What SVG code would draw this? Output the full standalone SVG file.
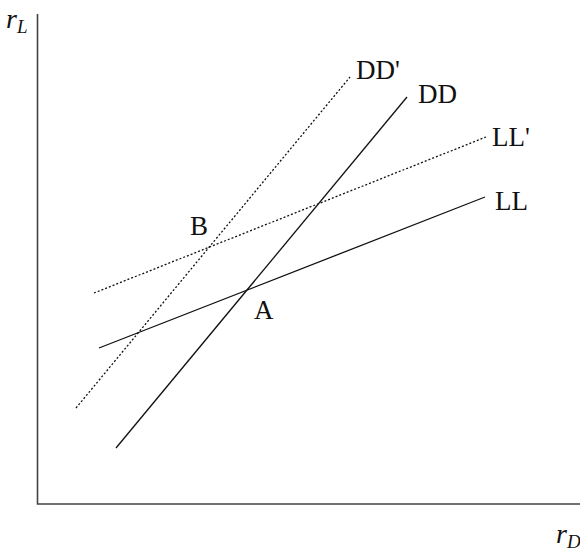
<svg xmlns="http://www.w3.org/2000/svg" width="580" height="551" viewBox="0 0 580 551">
<style>
.ax{stroke:#444;stroke-width:1.6;fill:none}
.ln{stroke:#111;stroke-width:1.3;fill:none}
.dt{stroke:#111;stroke-width:1.3;fill:none;stroke-dasharray:2 2}
.lb{font-family:"Liberation Serif",serif;font-size:27px;fill:#111}
.it{font-family:"Liberation Serif",serif;font-style:italic;font-size:28px;fill:#111}
.sb{font-family:"Liberation Serif",serif;font-style:italic;font-size:19px;fill:#111}
</style>
<rect width="580" height="551" fill="#fff"/>
<g id="axes">
<polyline class="ax" points="37.5,14 37.5,504 580,504"/>
<text class="it" x="6" y="28">r<tspan class="sb" dy="5">L</tspan></text>
<text class="it" x="556" y="543">r<tspan class="sb" dy="5">D</tspan></text>
</g>
<g id="connectors">
<line id="DD" class="ln" x1="116" y1="448" x2="407" y2="97"/>
<line id="DDp" class="dt" x1="76" y1="408" x2="350" y2="77"/>
<line id="LLp" class="dt" x1="94" y1="293" x2="486" y2="137"/>
<line id="LL" class="ln" x1="99" y1="348" x2="485" y2="197"/>
</g>
<g id="labels">
<text class="lb" x="356" y="79">DD'</text>
<text class="lb" x="418" y="103">DD</text>
<text class="lb" x="492" y="146">LL'</text>
<text class="lb" x="495" y="210">LL</text>
<text class="lb" x="190" y="235">B</text>
<text class="lb" x="254" y="319">A</text>
</g>
</svg>
